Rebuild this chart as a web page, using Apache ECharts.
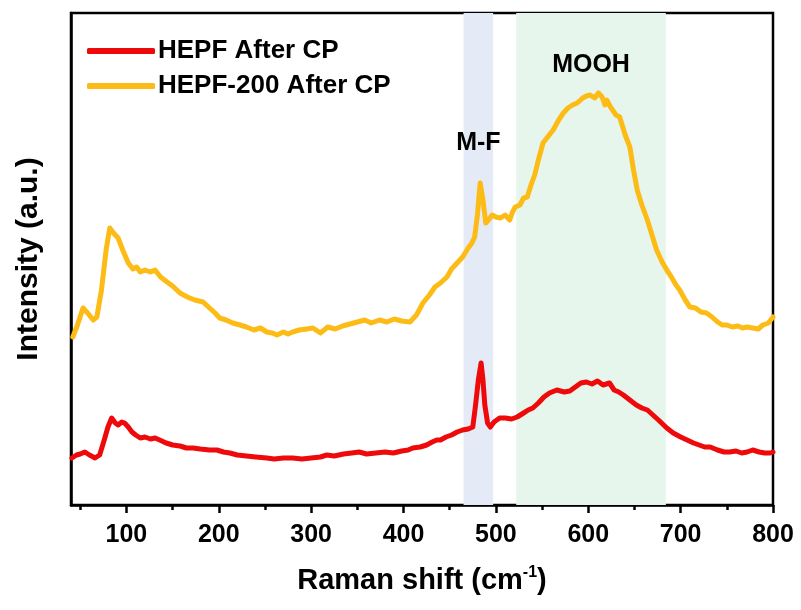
<!DOCTYPE html>
<html>
<head>
<meta charset="utf-8">
<script src="https://cdn.jsdelivr.net/npm/echarts@6/dist/echarts.min.js"></script>
<style>html,body{margin:0;padding:0;background:#fff;}#c{width:801px;height:610px;}</style>
</head>
<body>
<div id="c"></div>
<script>
// Raman shift (cm-1) and intensity (a.u., arbitrary)
const hepf200X = [42,47,53,58,64,68,73,78,82,86,91,96,102,107,111,115,120,126,131,137,144,150,158,166,174,183,190,196,201,208,215,223,230,238,245,252,258,263,270,275,280,287,295,302,310,318,326,334,342,350,358,365,374,382,390,398,407,414,421,428,434,440,447,452,458,464,470,474,477,480,483,486,489,492,496,500,505,510,515,518,521,526,530,534,538,542,546,551,556,562,568,573,578,583,588,594,598,602,607,611,615,618,620,624,630,634,640,645,649,653,658,664,669,674,680,685,690,695,699,705,710,716,722,728,734,740,745,750,756,762,767,772,778,784,789,795,800];
const hepf200Y = [168,180,197,192,185,188,215,255,277,272,267,255,242,236,238,233,235,233,235,228,223,219,212,208,205,203,197,192,187,185,182,180,178,175,177,173,172,170,173,171,173,175,176,177,172,178,176,179,181,183,185,182,185,183,186,184,183,190,202,210,218,222,228,236,242,248,257,262,268,290,322,305,282,285,290,288,287,290,285,293,298,300,307,308,320,330,345,362,368,375,385,392,397,400,402,407,409,410,407,412,408,400,405,398,390,388,370,358,335,315,300,285,270,255,243,235,228,220,215,205,198,197,193,192,188,183,180,180,178,179,177,178,177,176,180,182,188];
const hepfX = [41,46,50,55,60,66,71,76,80,84,88,91,95,98,102,106,110,115,120,126,131,136,143,150,158,165,172,180,190,198,205,212,220,230,240,252,260,270,280,290,300,310,317,325,335,344,352,360,370,380,389,398,405,410,418,425,431,436,440,446,452,458,464,470,475,478,481,484,486,488,491,494,498,504,510,517,523,530,535,540,546,552,558,566,574,580,586,592,598,604,610,616,623,628,633,638,645,652,658,664,670,676,685,692,700,707,714,720,726,732,740,747,753,760,766,772,778,785,791,797,800];
const hepfY = [47,50,51,53,50,47,50,65,78,87,82,80,83,82,78,73,70,67,68,66,67,65,62,60,59,57,57,56,55,55,53,52,50,49,48,47,46,47,47,46,47,48,50,49,51,52,53,51,52,53,52,54,55,57,58,60,63,65,65,68,70,73,75,76,78,100,125,142,125,100,82,78,83,87,87,86,88,92,95,97,102,108,112,115,113,114,118,122,123,121,124,120,122,115,113,110,105,100,97,95,90,85,77,72,68,65,62,60,58,58,55,53,53,54,52,53,55,53,52,52,53];
const seriesNames = ['HEPF After CP', 'HEPF-200 After CP'];
const majorTicks = [100,200,300,400,500,600,700,800];
const minorTicks = [50,150,250,350,450,550,650,750];
const bandMF = [465, 497];
const bandMOOH = [522, 684];

const zip = (xs, ys) => xs.map((x, i) => [x, ys[i]]);
const font = '"Liberation Sans", Arial, sans-serif';
const chart = echarts.init(document.getElementById('c'), null, {renderer: 'canvas'});
chart.setOption({
  animation: false,
  backgroundColor: '#fff',
  grid: {left: 71, right: 28, top: 13, bottom: 105, show: true, borderColor: '#000', borderWidth: 2.5, backgroundColor: 'transparent'},
  legend: {
    left: 82, top: 33, orient: 'vertical', itemWidth: 68, itemHeight: 6, itemGap: 9,
    icon: 'roundRect',
    textStyle: {fontFamily: font, fontWeight: 'bold', fontSize: 26, color: '#000', padding: [0,0,0,-2]},
    data: seriesNames
  },
  xAxis: [{
    type: 'value', min: 40, max: 800, position: 'bottom',
    name: '{a|Raman shift (cm}{s|-1}{a|)}', nameLocation: 'middle', nameGap: 60,
    nameTextStyle: {rich: {
      a: {fontFamily: font, fontWeight: 'bold', fontSize: 29, color: '#000', verticalAlign: 'bottom'},
      s: {fontFamily: font, fontWeight: 'bold', fontSize: 16, color: '#000', verticalAlign: 'top', padding: [0,0,14,0]}
    }},
    axisLine: {show: true, lineStyle: {color: '#000', width: 2.5}},
    axisTick: {show: true, inside: false, length: 8, lineStyle: {color: '#000', width: 2.5}, customValues: majorTicks},
    axisLabel: {show: true, margin: 18, fontFamily: font, fontWeight: 'bold', fontSize: 25, color: '#000', customValues: majorTicks},
    splitLine: {show: false}
  }, {
    // minor ticks: a top axis shifted down onto the bottom edge, ticks pointing down
    type: 'value', min: 40, max: 800, position: 'top', offset: -492,
    axisLine: {show: false},
    axisTick: {show: true, inside: true, length: 5, lineStyle: {color: '#000', width: 2.5}, customValues: minorTicks},
    axisLabel: {show: false, customValues: minorTicks},
    splitLine: {show: false}
  }],
  yAxis: {
    type: 'value', min: 0, max: 492,
    name: 'Intensity (a.u.)', nameLocation: 'middle', nameGap: 27,
    nameTextStyle: {fontFamily: font, fontWeight: 'bold', fontSize: 30, color: '#000'},
    axisLine: {show: true, lineStyle: {color: '#000', width: 2.5}},
    axisTick: {show: false}, axisLabel: {show: false}, splitLine: {show: false}
  },
  series: [{
    name: seriesNames[0], type: 'line', data: zip(hepfX, hepfY), showSymbol: false, smooth: false,
    lineStyle: {color: '#ee0a0a', width: 5, join: 'round', cap: 'round'}, itemStyle: {color: '#ee0a0a'}, z: 3,
    markArea: {
      silent: true,
      label: {fontFamily: font, fontWeight: 'bold', fontSize: 25, color: '#000'},
      data: [
        [{xAxis: bandMF[0], yAxis: 0, itemStyle: {color: '#e4ebf6'}, label: {show: true, position: 'insideTop', distance: 118, formatter: 'M-F'}}, {xAxis: bandMF[1], yAxis: 492}],
        [{xAxis: bandMOOH[0], yAxis: 0, itemStyle: {color: '#e6f6ec'}, label: {show: true, position: 'insideTop', distance: 40, formatter: 'MOOH'}}, {xAxis: bandMOOH[1], yAxis: 492}]
      ]
    }
  }, {
    name: seriesNames[1], type: 'line', data: zip(hepf200X, hepf200Y), showSymbol: false, smooth: false,
    lineStyle: {color: '#fdbb15', width: 5, join: 'round', cap: 'round'}, itemStyle: {color: '#fdbb15'}, z: 3
  }]
});
</script>
</body>
</html>
